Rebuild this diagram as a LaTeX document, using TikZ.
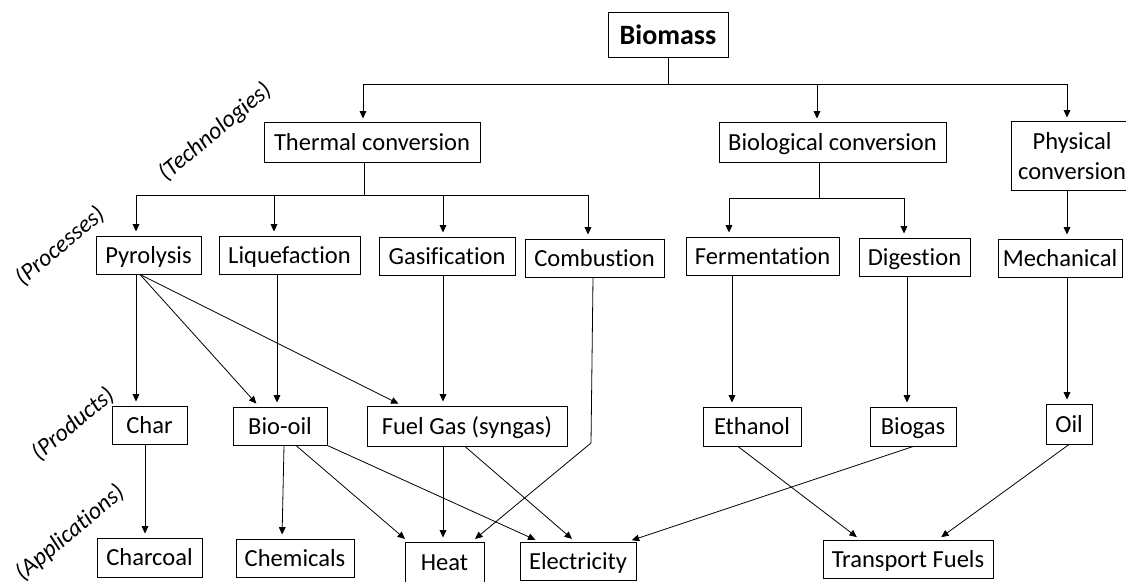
\documentclass[tikz,border=0pt]{standalone}
\usepackage{fontspec}
\setmainfont{Carlito}[Ligatures=NoCommon]
\usetikzlibrary{arrows.meta,calc}
\tikzset{
  box/.style={draw, line width=0.75pt, inner sep=0pt, align=center,
    font=\fontsize{18.4}{22}\selectfont},
  one/.style={text height=15pt, text depth=3pt},
  sz/.style 2 args={minimum width=#1*0.75pt, minimum height=#2*0.75pt},
  arr/.style={line width=0.6pt, -{Triangle[length=5.5pt,width=5pt]}, shorten >=3pt},
  ln/.style={line width=0.6pt},
  lab/.style={font=\fontsize{18}{22}\selectfont\itshape, rotate=40, inner sep=0pt}
}
\begin{document}
\begin{tikzpicture}[x=0.75pt,y=-0.75pt]
\clip (0,0) rectangle (1126,581);
\fill[white] (0,0) rectangle (1126,581);
% level 0
\node[box,sz={120}{45},text height=17pt,text depth=3pt,font=\fontsize{21}{25}\selectfont\bfseries] (biomass) at (668,35.5) {Biomass};
% technologies
\node[box,one,sz={216}{39}] (therm) at (372,142.5) {Thermal conversion};
\node[box,one,sz={227}{39}] (bioconv) at (832.5,142.5) {Biological conversion};
\node[box,sz={122}{68}] (phys) at (1072,156) {Physical\\conversion};
% processes
\node[box,one,sz={105}{38}] (pyro) at (148.5,255) {Pyrolysis};
\node[box,one,sz={141}{38}] (liq) at (289.5,255) {Liquefaction};
\node[box,one,sz={136}{38}] (gas) at (447,256) {Gasification};
\node[box,one,sz={139}{38}] (comb) at (594.5,258) {Combustion};
\node[box,one,sz={153}{38}] (ferm) at (762.5,256) {Fermentation};
\node[box,one,sz={111}{38}] (dig) at (914.5,257) {Digestion};
\node[box,one,sz={124}{38}] (mech) at (1060,258) {Mechanical};
% products
\node[box,one,sz={75}{38}] (char) at (149.5,425) {Char};
\node[box,one,sz={94}{38}] (biooil) at (280,426) {Bio-oil};
\node[box,one,sz={200}{40}] (fuel) at (467,426) {Fuel Gas (syngas)};
\node[box,one,sz={98}{39}] (eth) at (752,426.5) {Ethanol};
\node[box,one,sz={86}{39}] (biogas) at (913,426.5) {Biogas};
\node[box,one,sz={46}{40}] (oil) at (1069,424) {Oil};
% applications
\node[box,one,sz={105}{39}] (charcoal) at (149.5,557.5) {Charcoal};
\node[box,one,sz={118}{38}] (chem) at (295,558) {Chemicals};
\node[box,one,sz={79}{40}] (heat) at (444.5,562) {Heat};
\node[box,one,sz={116}{38}] (elec) at (578,561) {Electricity};
\node[box,one,sz={170}{38}] (tf) at (908,559) {Transport Fuels};
% side labels
\node[lab] (ltech) at (215,132) {(Technologies)};
\node[lab] (lproc) at (60,246) {(Processes)};
\node[lab] (lprod) at (73,424) {(Products)};
\node[lab] (lapp) at (70,533) {(Applications)};
% tree connectors
\coordinate (bj) at (668,84);
\draw[ln] (biomass.south) -- (bj);
\draw[arr] (bj) -| (363,0 |- therm.north);
\draw[arr] (bj) -| (817,0 |- bioconv.north);
\draw[arr] (bj) -| (1067,0 |- phys.north);
\coordinate (tj) at (364,195);
\draw[ln] (364,0 |- therm.south) -- (tj);
\draw[arr] (tj) -| (136,0 |- pyro.north);
\draw[arr] (tj) -| (274,0 |- liq.north);
\draw[arr] (tj) -| (443,0 |- gas.north);
\draw[arr] (tj) -| (588,0 |- comb.north);
\coordinate (bcj) at (819,198);
\draw[ln] (819,0 |- bioconv.south) -- (bcj);
\draw[arr] (bcj) -| (729,0 |- ferm.north);
\draw[arr] (bcj) -| (904,0 |- dig.north);
\draw[arr] (1067,0 |- phys.south) -- (1067,0 |- mech.north);
% processes to products
\draw[arr] (136,0 |- pyro.south) -- (136,0 |- char.north);
\draw[arr] (140,0 |- pyro.south) -- (259,0 |- biooil.north);
\draw[arr] (140,0 |- pyro.south) -- (402,0 |- fuel.north);
\draw[arr] (277,0 |- liq.south) -- (277,0 |- biooil.north);
\draw[arr] (443,0 |- gas.south) -- (443,0 |- fuel.north);
\coordinate (cb) at (591,443);
\draw[arr] (593,0 |- comb.south) -- (cb) -- (472,0 |- heat.north);
\draw[arr] (732,0 |- ferm.south) -- (732,0 |- eth.north);
\draw[arr] (907,0 |- dig.south) -- (907,0 |- biogas.north);
\draw[arr] (1067,0 |- mech.south) -- (1067,0 |- oil.north);
% products to applications
\draw[arr] (145,0 |- char.south) -- (145,0 |- charcoal.north);
\draw[arr] (284,0 |- biooil.south) -- (282,0 |- chem.north);
\draw[arr] (296,0 |- biooil.south) -- (408,0 |- heat.north);
\draw[arr] (biooil.south east) -- (539,0 |- elec.north);
\draw[arr] (443,0 |- fuel.south) -- (443,0 |- heat.north);
\draw[arr] (465,0 |- fuel.south) -- (575,0 |- elec.north);
\draw[arr] (biogas.south) -- (628,0 |- elec.north);
\draw[arr] (738,0 |- eth.south) -- (860,0 |- tf.north);
\draw[arr] (oil.south) -- (938,0 |- tf.north);
\end{tikzpicture}
\end{document}
